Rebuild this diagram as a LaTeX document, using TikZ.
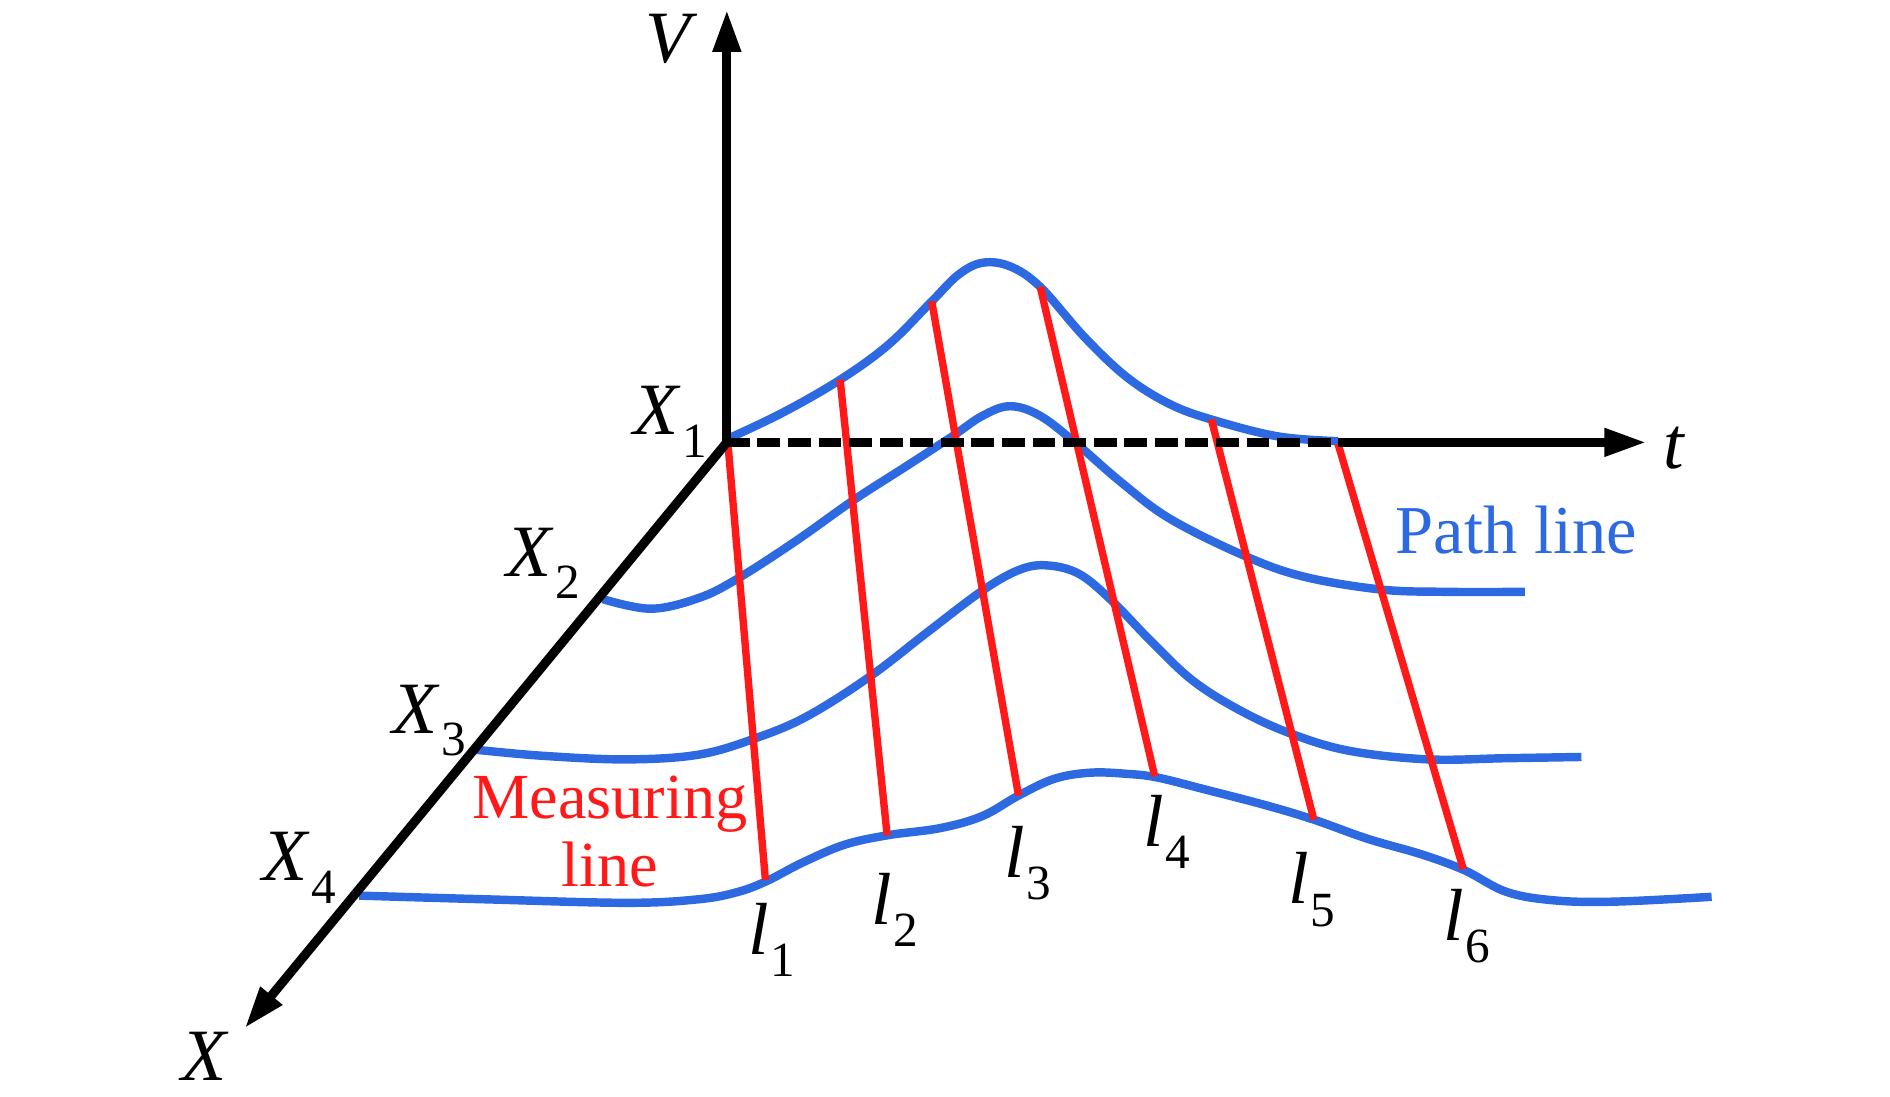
\documentclass[tikz,border=0pt]{standalone}
\usepackage{fontspec}
\setmainfont{Liberation Serif}
\usetikzlibrary{arrows.meta}
\definecolor{pathblue}{RGB}{45,105,225}
\definecolor{measred}{RGB}{255,25,25}
\newcommand{\mylab}[2]{\textit{#1}\kern0.02em\raisebox{-0.3em}{\fontsize{14}{14}\selectfont #2}}
\begin{document}
\begin{tikzpicture}[x=0.012054cm,y=-0.012054cm,
  axis/.style={line width=2.6pt, black},
  tipstyle/.style={-{Triangle[length=12pt,width=7.5pt]}},
  pathline/.style={line width=2.4pt, pathblue},
  measline/.style={line width=2.1pt, measred},
  axlabel/.style={font=\fontsize{21}{21}\selectfont, inner sep=0pt},
  redtext/.style={font=\fontsize{18.3}{19.5}\selectfont, text=measred, align=center, inner sep=0pt},
  bluetext/.style={font=\fontsize{19.5}{20}\selectfont, text=pathblue, inner sep=0pt}]
\useasboundingbox (0,0) rectangle (1568,910);

% axis coordinates
\coordinate (O) at (603,367);
\coordinate (Vtip) at (603,8);
\coordinate (Tdash) at (1110,367);
\coordinate (Ttip) at (1366,367);
\coordinate (Xtip) at (203,853);

% path lines
\draw[pathline] plot[smooth, tension=0.6] coordinates {(606,363) (650,342) (697,315) (737,286) (773,250) (795,228) (815,218) (838,221) (863,238) (900,280) (935,313) (970,335) (1005,348) (1060,362) (1110,366)};
\draw[pathline] plot[smooth, tension=0.6] coordinates {(500,497) (540,505) (580,496) (612,480) (660,449) (708,415) (750,388) (790,362) (815,345) (838,337) (863,345) (893,368) (930,400) (970,430) (1030,460) (1080,478) (1145,489) (1200,491) (1265,491)};
\draw[pathline] plot[smooth, tension=0.6] coordinates {(395,622) (450,627) (520,630) (580,626) (628,612) (670,594) (722,561) (770,524) (815,490) (845,473) (868,469) (895,476) (922,498) (955,532) (990,565) (1030,590) (1072,609) (1120,623) (1185,630) (1250,629) (1312,628)};
\draw[pathline] plot[smooth, tension=0.6] coordinates {(298,743) (400,746) (520,749) (580,746) (612,740) (636,731) (665,716) (700,701) (736,693) (780,687) (815,677) (845,660) (875,646) (905,641) (935,642) (960,645) (1000,655) (1050,668) (1090,680) (1135,696) (1180,709) (1215,722) (1250,740) (1290,747) (1340,748) (1420,744)};

% measuring lines
\coordinate (a1) at (604,369); \coordinate (b1) at (635,730);
\coordinate (a2) at (697,315); \coordinate (b2) at (736,693);
\coordinate (a3) at (773,250); \coordinate (b3) at (845,660);
\coordinate (a4) at (863,238); \coordinate (b4) at (958,644);
\coordinate (a5) at (1005,348); \coordinate (b5) at (1090,680);
\coordinate (a6) at (1110,368); \coordinate (b6) at (1214,721);
\foreach \i in {1,...,6} {\draw[measline] (a\i) -- (b\i);}

% axes
\draw[axis, tipstyle] (O) -- (Vtip);
\draw[axis, dash pattern=on 6.5pt off 2.2pt] (O) -- (Tdash);
\draw[axis, tipstyle] (Tdash) -- (Ttip);
\draw[axis, tipstyle] (O) -- (Xtip);

% axis labels
\node[axlabel] (Vl) at (557,32) {\textit{V}};
\node[axlabel] (tl) at (1389,372) {\textit{t}};
\node[axlabel] (Xl) at (170,876) {\textit{X}};
\node[axlabel] (X1l) at (556,350) {\mylab{X}{1}};
\node[axlabel] (X2l) at (451,467) {\mylab{X}{2}};
\node[axlabel] (X3l) at (356,598) {\mylab{X}{3}};
\node[axlabel] (X4l) at (248,720) {\mylab{X}{4}};

% measuring line labels
\node[axlabel] (l1) at (640,780) {\mylab{l}{1}};
\node[axlabel] (l2) at (742,755) {\mylab{l}{2}};
\node[axlabel] (l3) at (853,716) {\mylab{l}{3}};
\node[axlabel] (l4) at (968,690) {\mylab{l}{4}};
\node[axlabel] (l5) at (1088,738) {\mylab{l}{5}};
\node[axlabel] (l6) at (1217,768) {\mylab{l}{6}};

\node[redtext] (meas) at (506,690) {Measuring\\line};
\node[bluetext] (pl) at (1258,440) {Path line};
\end{tikzpicture}
\end{document}
